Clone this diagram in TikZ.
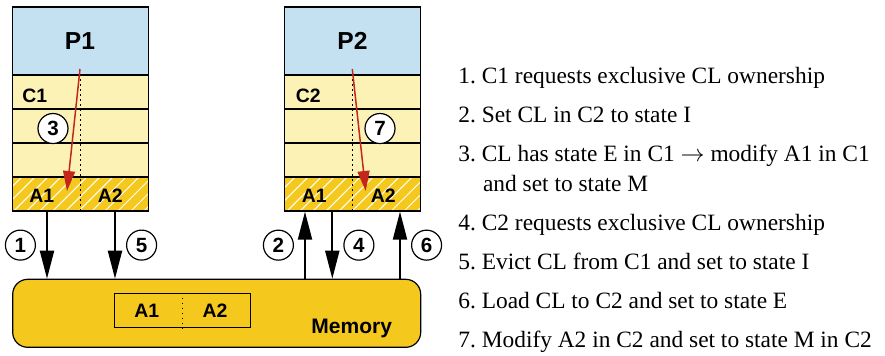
\documentclass[tikz,border=0pt]{standalone}
\usepackage{fontspec}
\setmainfont{Liberation Serif}
\setsansfont{Liberation Sans}
\usetikzlibrary{arrows.meta,patterns.meta}
\definecolor{procblue}{RGB}{196,225,241}
\definecolor{cacheyellow}{RGB}{252,242,182}
\definecolor{memgold}{RGB}{245,200,30}
\definecolor{arrowred}{RGB}{196,38,28}

\begin{document}
\begin{tikzpicture}[
	x=0.5pt, y=-0.5pt,
	cell/.style={
		draw, line width=0.6pt, rectangle,
		minimum width=68pt, minimum height=17pt, inner sep=0pt
	},
	proc/.style={cell, fill=procblue, minimum height=34pt},
	line/.style={cell, fill=cacheyellow},
	hatched/.style={cell, preaction={fill=memgold},
		pattern={Lines[angle=45, distance=4.6pt, line width=0.5pt]},
		pattern color=white},
	mem/.style={
		draw, line width=0.6pt, fill=memgold, rounded corners=7.5pt,
		minimum width=204pt, minimum height=34pt
	},
	lbl/.style={font=\sffamily\bfseries\fontsize{9.7}{11}\selectfont, inner sep=0pt},
	big/.style={font=\sffamily\bfseries\fontsize{12.3}{14}\selectfont, inner sep=0pt},
	num/.style={
		circle, draw, fill=white, line width=0.6pt, minimum size=15pt,
		inner sep=0pt, font=\sffamily\bfseries\fontsize{10.3}{11}\selectfont
	},
	arr/.style={-{Triangle[length=14pt, width=7pt]}, line width=1pt},
	redarr/.style={-{Triangle[length=10pt, width=6pt]}, line width=0.75pt, draw=arrowred},
	dots/.style={line width=0.7pt, dash pattern=on 0.7pt off 1.8pt},
	item/.style={anchor=base west, inner sep=0pt, font=\fontsize{11.7}{14}\selectfont},
	]
	% processor 1 and its cache
	\node[proc]    (p1)  at (80.3, 41)  {};
	\node[line]    (c1a) at (80.3, 92)  {};
	\node[line]    (c1b) at (80.3, 126) {};
	\node[line]    (c1c) at (80.3, 160) {};
	\node[hatched] (c1d) at (80.3, 194) {};
	\draw[dots] (c1a.north) -- (c1d.south);
	\node[big] (p1lbl) at (80, 41) {P1};
	\node[lbl] (c1lbl) at (34.7, 96) {C1};
	\node[lbl] (c1a1) at (41.7, 195.5) {A1};
	\node[lbl] (c1a2) at (110.3, 195.5) {A2};

	% processor 2 and its cache
	\node[proc]    (p2)  at (352.5, 41)  {};
	\node[line]    (c2a) at (352.5, 92)  {};
	\node[line]    (c2b) at (352.5, 126) {};
	\node[line]    (c2c) at (352.5, 160) {};
	\node[hatched] (c2d) at (352.5, 194) {};
	\draw[dots] (c2a.north) -- (c2d.south);
	\node[big] (p2lbl) at (352.5, 41) {P2};
	\node[lbl] (c2lbl) at (308.3, 96) {C2};
	\node[lbl] (c2a1) at (314.3, 195.5) {A1};
	\node[lbl] (c2a2) at (383.3, 195.5) {A2};

	% local modifications
	\coordinate (s3) at (80, 69);
	\coordinate (e3) at (67, 191);
	\coordinate (s7) at (352.3, 69);
	\coordinate (e7) at (365.7, 191);
	\draw[redarr] (s3) -- (e3);
	\draw[redarr] (s7) -- (e7);
	\node[num] (n3) at (53, 128.5) {3};
	\node[num] (n7) at (380, 128.5) {7};

	% memory
	\node[mem] (mem) at (216.7, 313.3) {};
	\node[cell] (memcl) at (182.5, 310.3) {};
	\draw[dots] (memcl.north) -- (memcl.south);
	\node[lbl] (ma1) at (146.7, 310.5) {A1};
	\node[lbl] (ma2) at (215, 310.5) {A2};
	\node[lbl, font=\sffamily\bfseries\fontsize{10.5}{12}\selectfont, anchor=base]
		(memlbl) at (351.7, 333.3) {Memory};

	% bus transfers
	\coordinate (x1) at (47, 0);
	\coordinate (x5) at (115, 0);
	\coordinate (x2) at (305, 0);
	\coordinate (x4) at (332.3, 0);
	\coordinate (x6) at (400, 0);
	\draw[arr] (c1d.south -| x1) -- node[num, left=5.5pt]  {1} (mem.north -| x1);
	\draw[arr] (c1d.south -| x5) -- node[num, right=5.5pt] {5} (mem.north -| x5);
	\draw[arr] (mem.north -| x2) -- node[num, left=5.5pt]  {2} (c2d.south -| x2);
	\draw[arr] (c2d.south -| x4) -- node[num, right=5.5pt] {4} (mem.north -| x4);
	\draw[arr] (mem.north -| x6) -- node[num, right=5.5pt] {6} (c2d.south -| x6);

	% legend
	\node[item] (i1)  at (458, 83.3)  {1.~C1 requests exclusive CL ownership};
	\node[item] (i2)  at (458, 122.6) {2.~Set CL in C2 to state I};
	\node[item] (i3)  at (458, 161.5) {3.~CL has state E in C1 $\rightarrow$ modify A1 in C1};
	\node[item] (i3b) at (482.7, 191) {and set to state M};
	\node[item] (i4)  at (458, 230.5) {4.~C2 requests exclusive CL ownership};
	\node[item] (i5)  at (458, 269.5) {5.~Evict CL from C1 and set to state I};
	\node[item] (i6)  at (458, 308.5) {6.~Load CL to C2 and set to state E};
	\node[item] (i7)  at (458, 347.7) {7.~Modify A2 in C2 and set to state M in C2};

	\useasboundingbox (0, 0) rectangle (885, 355);
\end{tikzpicture}
\end{document}
